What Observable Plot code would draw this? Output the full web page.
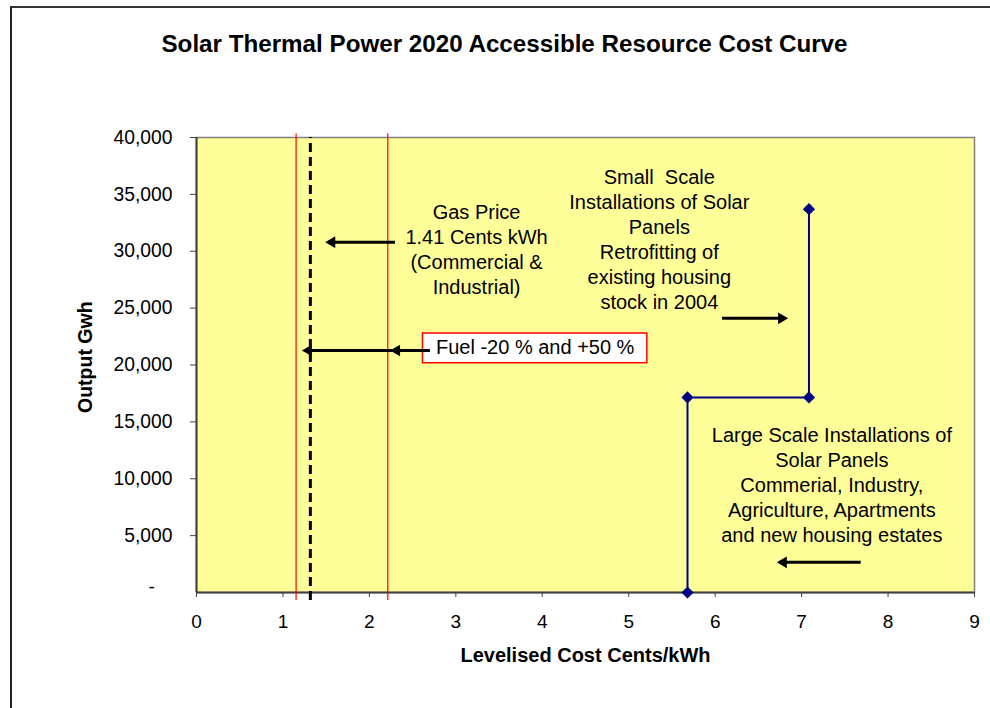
<!DOCTYPE html>
<html><head><meta charset="utf-8">
<script src="https://cdn.jsdelivr.net/npm/d3@7"></script>
<script src="https://cdn.jsdelivr.net/npm/@observablehq/plot@0.6"></script>
<style>
body{margin:0;background:#fff;}
#wrap{position:relative;width:990px;height:708px;overflow:hidden;}
#wrap svg{position:absolute;left:0;top:0;}
#border{position:absolute;left:10px;top:6px;width:990px;height:720px;border-left:2px solid #222;border-top:2px solid #333;pointer-events:none;z-index:2;}
</style></head><body><div id="wrap"></div>
<script>
const title = "Solar Thermal Power 2020 Accessible Resource Cost Curve";
const xLabel = "Levelised Cost Cents/kWh";
const yLabel = "Output Gwh";
const xTicks = [0, 1, 2, 3, 4, 5, 6, 7, 8, 9];
const yTicks = [0, 5000, 10000, 15000, 20000, 25000, 30000, 35000, 40000];

// cost curve (step)
const curveCost = [5.68, 5.68, 7.085, 7.085];
const curveOutput = [0, 17150, 17150, 33700];

// reference lines
const gasPrice = 1.317;
const fuelLow = 1.152;
const fuelHigh = 2.213;

// annotation texts
const noteText = [
  "Gas Price\n1.41 Cents kWh\n(Commercial &\nIndustrial)",
  "Small  Scale\nInstallations of Solar\nPanels\nRetrofitting of\nexisting housing\nstock in 2004",
  "Large Scale Installations of\nSolar Panels\nCommerial, Industry,\nAgriculture, Apartments\nand new housing estates"
];
const noteX = [3.24, 5.354, 7.35];
const noteY = [30200, 31160, 9580];

const fuelText = "Fuel -20 % and +50 %";
const fuelBoxX = [2.62, 5.215];
const fuelBoxY = [20158, 22769];
const fuelTextAt = [2.77, 21560];

// arrows: start, end, y
const arrowX1 = [2.296, 2.70, 6.08, 7.684];
const arrowX2 = [1.52, 1.25, 6.813, 6.744];
const arrowY = [30800, 21274, 24100, 2650];
const leftHeadX = [1.52, 1.25, 2.27, 6.744];
const leftHeadY = [30800, 21274, 21274, 2650];
const rightHeadX = [6.813];
const rightHeadY = [24100];

const curve = curveCost.map((c, i) => ({cost: c, output: curveOutput[i]}));
const notes = noteText.map((t, i) => ({t, x: noteX[i], y: noteY[i]}));
const arrows = arrowX1.map((x1, i) => ({x1, x2: arrowX2[i], y: arrowY[i]}));
const leftHeads = leftHeadX.map((x, i) => ({x, y: leftHeadY[i]}));
const rightHeads = rightHeadX.map((x, i) => ({x, y: rightHeadY[i]}));

const FONT = "'Liberation Sans', Arial, Helvetica, sans-serif";

const chart = Plot.plot({
  width: 990,
  height: 708,
  marginLeft: 196,
  marginRight: 16,
  marginTop: 137,
  marginBottom: 116,
  style: {fontFamily: FONT, fontSize: "19px", color: "#000", background: "transparent", overflow: "visible"},
  x: {domain: [0, 9]},
  y: {domain: [0, 40000]},
  marks: [
    Plot.frame({fill: "#FFFF99"}),
    Plot.frame({stroke: "#808080", strokeWidth: 1.5}),
    Plot.ruleY([0], {stroke: "#404040", strokeWidth: 2}),
    Plot.ruleX([0], {stroke: "#404040", strokeWidth: 2}),
    Plot.axisX({ticks: xTicks, tickSize: 5, tickPadding: 17, label: null, fontSize: 19, stroke: "#404040"}),
    Plot.axisY({ticks: yTicks.filter(v => v > 0), tickFormat: d3.format(","), tickSize: 6, tickPadding: 18, label: null, fontSize: 19.3, stroke: "#404040"}),
    Plot.text(["-"], {frameAnchor: "bottom-left", dx: -48, fontSize: 19}),
    Plot.ruleX([fuelLow, fuelHigh], {y1: -700, y2: 40300, stroke: "#FF0000", strokeWidth: 1.2}),
    Plot.ruleX([gasPrice], {y1: -700, y2: 40000, stroke: "#000", strokeWidth: 3, strokeDasharray: "9,5"}),
    Plot.line(curve, {x: "cost", y: "output", stroke: "#000080", strokeWidth: 2}),
    Plot.dot(curve, {x: "cost", y: "output", symbol: "diamond2", r: 5.5, fill: "#000080"}),
    Plot.rect([0], {x1: fuelBoxX[0], x2: fuelBoxX[1], y1: fuelBoxY[0], y2: fuelBoxY[1], fill: "white", stroke: "#FF0000", strokeWidth: 1.5}),
    Plot.text([fuelText], {x: fuelTextAt[0], y: fuelTextAt[1], textAnchor: "start", fontSize: 20}),
    Plot.link(arrows, {x1: "x1", x2: "x2", y1: "y", y2: "y", stroke: "#000", strokeWidth: 3}),
    Plot.dot(leftHeads, {x: "x", y: "y", symbol: "triangle", r: 4.3, fill: "#000", rotate: -90, dx: 4}),
    Plot.dot(rightHeads, {x: "x", y: "y", symbol: "triangle", r: 4.3, fill: "#000", rotate: 90, dx: -4}),
    Plot.text(notes, {x: "x", y: "y", text: "t", lineAnchor: "middle", lineHeight: 1.25, fontSize: 20}),
    Plot.text([title], {frameAnchor: "top", dx: -81, dy: -103, fontWeight: "bold", fontSize: 24.2}),
    Plot.text([xLabel], {frameAnchor: "bottom", dy: 69, fontWeight: "bold", fontSize: 20}),
    Plot.text([yLabel], {frameAnchor: "left", dx: -111, dy: 48, rotate: -90, fontWeight: "bold", fontSize: 19.5})
  ]
});
const wrap = document.getElementById("wrap");
wrap.appendChild(chart);
const b = document.createElement("div");
b.id = "border";
wrap.appendChild(b);
</script></body></html>
